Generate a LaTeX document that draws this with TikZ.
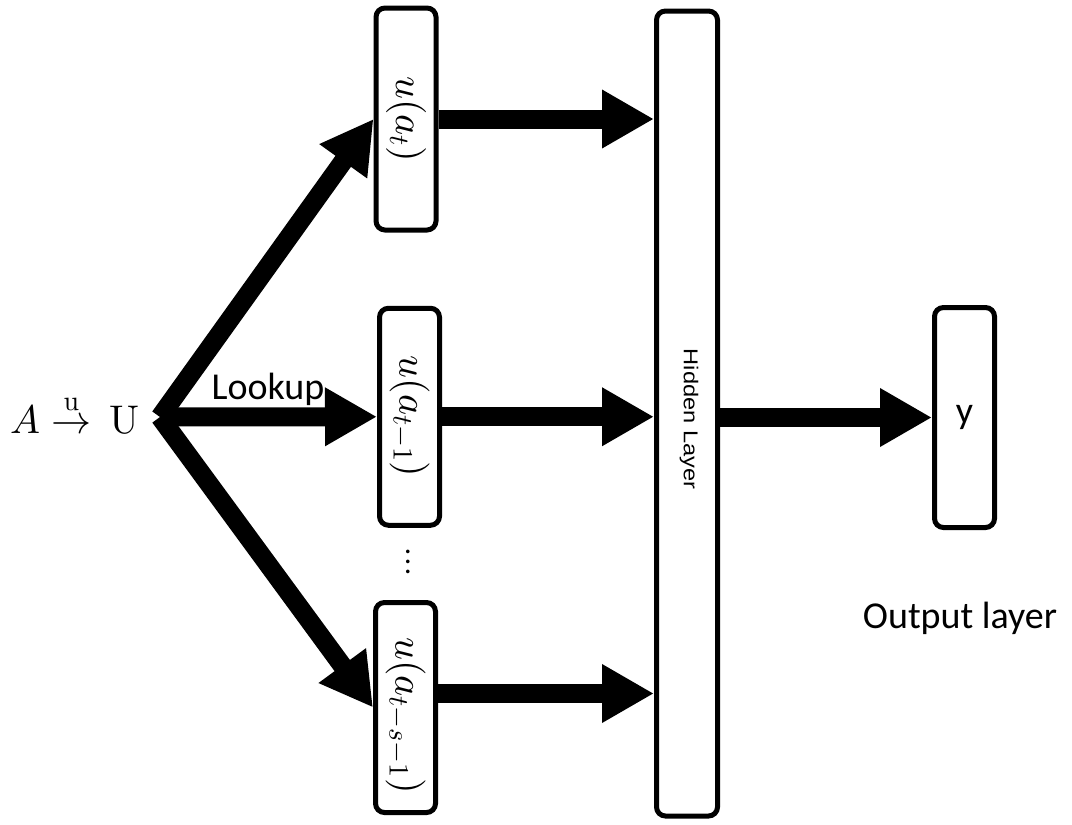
\documentclass[tikz,border=0pt]{standalone}
\usepackage{amsmath}
\usepackage[no-math]{fontspec}
\setmainfont{Carlito}
\newfontfamily\hiddenfont{Liberation Sans}
% scalable math fonts for the large formula sizes
\DeclareFontShape{OML}{cmm}{m}{it}{<->cmmi10}{}
\DeclareFontShape{OMS}{cmsy}{m}{n}{<->cmsy10}{}
\DeclareFontShape{OT1}{cmr}{m}{n}{<->cmr10}{}
\usetikzlibrary{arrows.meta}
\newcommand{\tallvdots}{\vbox{\baselineskip10pt\lineskiplimit0pt\hbox{.}\hbox{.}\hbox{.}}}
\begin{document}
\begin{tikzpicture}[x=1pt,y=-1pt,
  box/.style={draw, line width=5pt, rounded corners=9pt, inner sep=0pt, fill=white},
  fat/.style={line width=19pt, -{Triangle[length=52pt,width=55pt]}},
  vlabel/.style={rotate=-90, font=\fontsize{40}{44}\selectfont, inner sep=0pt},
  txt/.style={font=\fontsize{38}{42}\selectfont, inner sep=0pt},
  ]
\useasboundingbox (0,0) rectangle (1072,825);

% embedding boxes
\node[box, minimum width=60pt, minimum height=222pt] (b1) at (406,119) {};
\node[box, minimum width=60pt, minimum height=217pt] (b2) at (409.5,416.75) {};
\node[box, minimum width=60pt, minimum height=210pt] (b3) at (405.5,707.5) {};
\node[vlabel] (l1) at (b1.center) {$u(a_t)$};
\node[vlabel] (l2) at (b2.center) {$u(a_{t-1})$};
\node[vlabel] (l3) at ([yshift=-8pt]b3.center) {$u(a_{t-s-1})$};
\node[font=\fontsize{30}{32}\selectfont, inner sep=0pt] (dots) at (408,562) {\tallvdots};

% hidden and output layers
\node[box, minimum width=61pt, minimum height=805pt] (hid) at (687,413.5) {};
\node[rotate=-90, inner sep=0pt, font=\hiddenfont\fontsize{20}{22}\selectfont] (hidtxt) at (689,419)
  {\scalebox{1.18}[1]{Hidden Layer}};
\node[box, minimum width=60pt, minimum height=220pt] (out) at (964.5,417.5) {};
\node[txt] (ytxt) at (out.center) {y};
\node[txt, anchor=base] (outtxt) at (960,628) {Output layer};

% lookup source
\node[anchor=base west, inner sep=0pt, font=\fontsize{40}{44}\selectfont] (map) at (10,433)
  {$A \mathrel{\overset{\raisebox{3pt}{$\scriptstyle\mathrm{u}$}}{\rightarrow}}\,\mathrm{U}$};
\coordinate (src) at (160,417);

% connectors
\draw[fat] (src) -- (b1.west);
\draw[fat] (src) -- (b2.west);
\draw[fat] (src) -- (b3.west);
\draw[fat] (b1.east) -- (b1.east -| hid.west);
\draw[fat] (b2.east) -- (b2.east -| hid.west);
\draw[fat] ([yshift=14pt]b3.east) -- ([yshift=14pt]b3.east -| hid.west);
\draw[fat] (hid.east |- out.west) -- (out.west);

\node[txt, anchor=base] (lookup) at (268,399) {Lookup};
\end{tikzpicture}
\end{document}
